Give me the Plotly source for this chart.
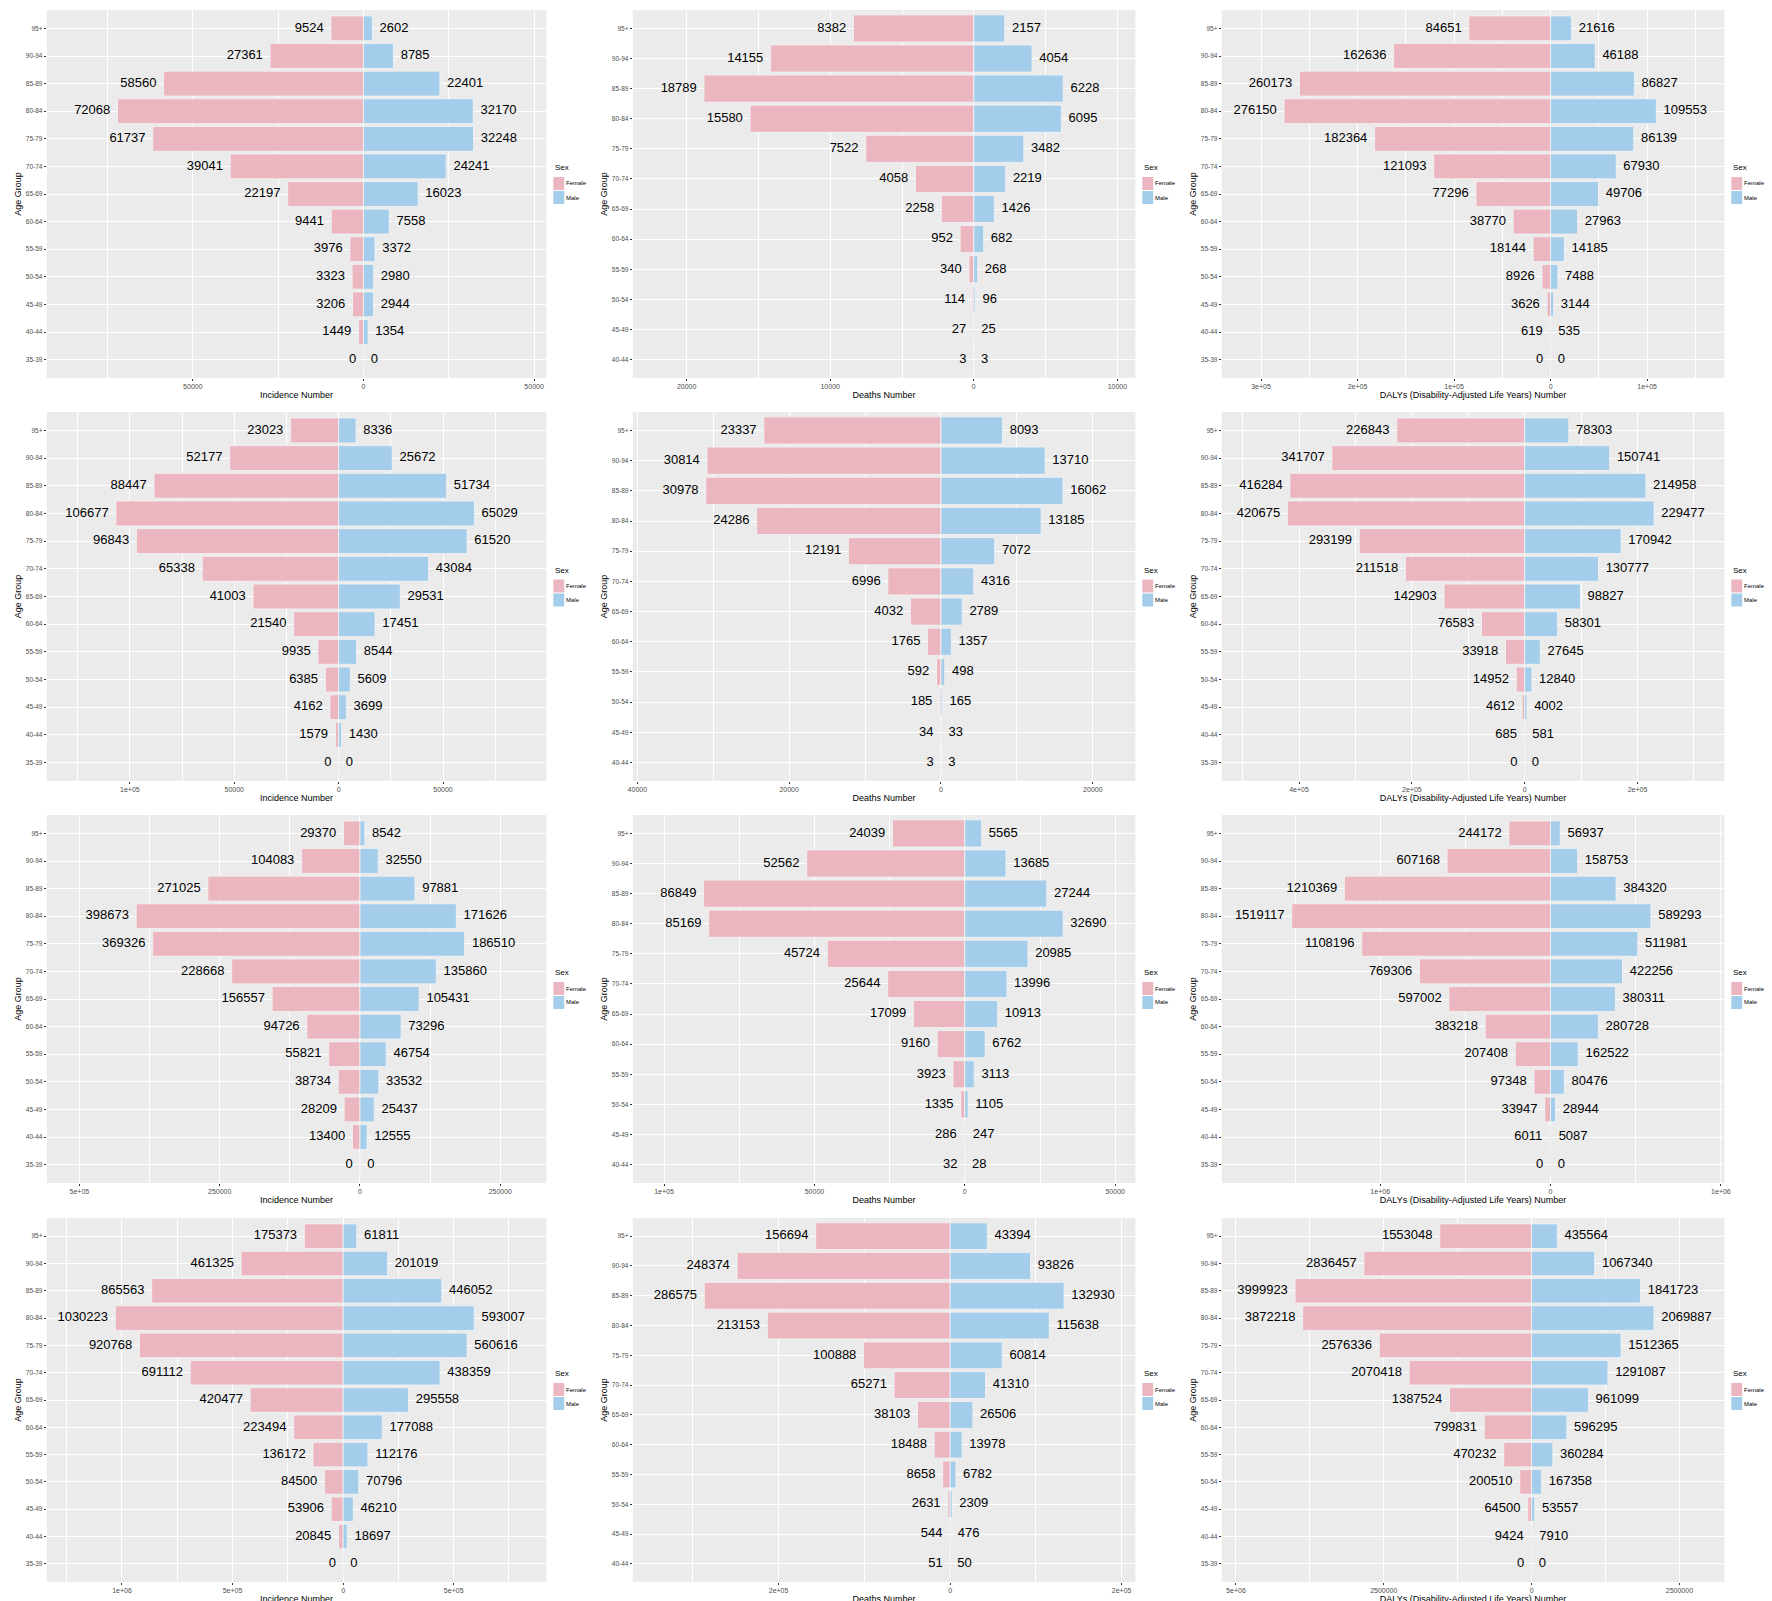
import plotly.graph_objects as go

ages13 = ["95+","90-94","85-89","80-84","75-79","70-74","65-69","60-64","55-59","50-54","45-49","40-44","35-39"]
ages12 = ages13[:12]

r1c1_f = [9524,27361,58560,72068,61737,39041,22197,9441,3976,3323,3206,1449,0]
r1c1_m = [2602,8785,22401,32170,32248,24241,16023,7558,3372,2980,2944,1354,0]
r1c2_f = [8382,14155,18789,15580,7522,4058,2258,952,340,114,27,3]
r1c2_m = [2157,4054,6228,6095,3482,2219,1426,682,268,96,25,3]
r1c3_f = [84651,162636,260173,276150,182364,121093,77296,38770,18144,8926,3626,619,0]
r1c3_m = [21616,46188,86827,109553,86139,67930,49706,27963,14185,7488,3144,535,0]
r2c1_f = [23023,52177,88447,106677,96843,65338,41003,21540,9935,6385,4162,1579,0]
r2c1_m = [8336,25672,51734,65029,61520,43084,29531,17451,8544,5609,3699,1430,0]
r2c2_f = [23337,30814,30978,24286,12191,6996,4032,1765,592,185,34,3]
r2c2_m = [8093,13710,16062,13185,7072,4316,2789,1357,498,165,33,3]
r2c3_f = [226843,341707,416284,420675,293199,211518,142903,76583,33918,14952,4612,685,0]
r2c3_m = [78303,150741,214958,229477,170942,130777,98827,58301,27645,12840,4002,581,0]
r3c1_f = [29370,104083,271025,398673,369326,228668,156557,94726,55821,38734,28209,13400,0]
r3c1_m = [8542,32550,97881,171626,186510,135860,105431,73296,46754,33532,25437,12555,0]
r3c2_f = [24039,52562,86849,85169,45724,25644,17099,9160,3923,1335,286,32]
r3c2_m = [5565,13685,27244,32690,20985,13996,10913,6762,3113,1105,247,28]
r3c3_f = [244172,607168,1210369,1519117,1108196,769306,597002,383218,207408,97348,33947,6011,0]
r3c3_m = [56937,158753,384320,589293,511981,422256,380311,280728,162522,80476,28944,5087,0]
r4c1_f = [175373,461325,865563,1030223,920768,691112,420477,223494,136172,84500,53906,20845,0]
r4c1_m = [61811,201019,446052,593007,560616,438359,295558,177088,112176,70796,46210,18697,0]
r4c2_f = [156694,248374,286575,213153,100888,65271,38103,18488,8658,2631,544,51]
r4c2_m = [43394,93826,132930,115638,60814,41310,26506,13978,6782,2309,476,50]
r4c3_f = [1553048,2836457,3999923,3872218,2576336,2070418,1387524,799831,470232,200510,64500,9424,0]
r4c3_m = [435564,1067340,1841723,2069887,1512365,1291087,961099,596295,360284,167358,53557,7910,0]

t_inc = "Incidence Number"
t_dea = "Deaths Number"
t_daly = "DALYs (Disability-Adjusted Life Years) Number"
sexes = ["Female", "Male"]

panels = [
    (r1c1_f, r1c1_m, ages13, t_inc, [-92800, 53600], [-50000, 0, 50000], ["50000","0","50000"], 50000),
    (r1c2_f, r1c2_m, ages12, t_dea, [-23750, 11250], [-20000,-10000,0,10000], ["20000","10000","0","10000"], 10000),
    (r1c3_f, r1c3_m, ages13, t_daly, [-340700, 180000], [-3e5,-2e5,-1e5,0,1e5], ["3e+05","2e+05","1e+05","0","1e+05"], 1e5),
    (r2c1_f, r2c1_m, ages13, t_inc, [-139800, 99500], [-1e5,-5e4,0,5e4], ["1e+05","50000","0","50000"], 5e4),
    (r2c2_f, r2c2_m, ages12, t_dea, [-40600, 25600], [-4e4,-2e4,0,2e4], ["40000","20000","0","20000"], 2e4),
    (r2c3_f, r2c3_m, ages13, t_daly, [-537000, 354000], [-4e5,-2e5,0,2e5], ["4e+05","2e+05","0","2e+05"], 2e5),
    (r3c1_f, r3c1_m, ages13, t_inc, [-558000, 332000], [-5e5,-2.5e5,0,2.5e5], ["5e+05","250000","0","250000"], 2.5e5),
    (r3c2_f, r3c2_m, ages12, t_dea, [-110400, 56700], [-1e5,-5e4,0,5e4], ["1e+05","50000","0","50000"], 5e4),
    (r3c3_f, r3c3_m, ages13, t_daly, [-1.93e6, 1.02e6], [-1e6,0,1e6], ["1e+06","0","1e+06"], 1e6),
    (r4c1_f, r4c1_m, ages13, t_inc, [-1.34e6, 9.19e5], [-1e6,-5e5,0,5e5], ["1e+06","5e+05","0","5e+05"], 5e5),
    (r4c2_f, r4c2_m, ages12, t_dea, [-370000, 216000], [-2e5,0,2e5], ["2e+05","0","2e+05"], 2e5),
    (r4c3_f, r4c3_m, ages13, t_daly, [-5.24e6, 3.26e6], [-5e6,-2.5e6,0,2.5e6], ["5e+06","2500000","0","2500000"], 2.5e6),
]

W, H = 1772, 1601
cols_px = [(34, 537), (624, 1130), (1217, 1723)]
rows_px = [(2, 370), (404, 773), (807, 1175), (1210, 1574)]
FEM = "#ECB6C1"
MAL = "#A3CDEA"
colors = [FEM, MAL]

fig = go.Figure()
layout = dict(width=W, height=H, margin=dict(l=0, r=0, t=0, b=0),
              paper_bgcolor="white", plot_bgcolor="#EBEBEB", barmode="relative",
              showlegend=False,
              font=dict(family="Liberation Sans, Arial", color="black"))
shapes, annots = [], []

for i, (f, m, ages, xt, rng, tv, tt, step) in enumerate(panels):
    r, c = divmod(i, 3)
    k = i + 1
    xa = "x" if k == 1 else f"x{k}"
    ya = "y" if k == 1 else f"y{k}"
    fig.add_trace(go.Bar(y=ages, x=[-v for v in f], orientation="h", name="Female",
                         marker=dict(color=FEM, line=dict(color="#F4F4F4", width=0.8)),
                         width=0.9, xaxis=xa, yaxis=ya, hoverinfo="skip"))
    fig.add_trace(go.Bar(y=ages, x=m, orientation="h", name="Male",
                         marker=dict(color=MAL, line=dict(color="#F4F4F4", width=0.8)),
                         width=0.9, xaxis=xa, yaxis=ya, hoverinfo="skip"))
    fig.add_trace(go.Scatter(y=ages, x=[-v for v in f], mode="text",
                             text=[f"{v}  " for v in f], textposition="middle left",
                             textfont=dict(size=13, color="black"), cliponaxis=False,
                             xaxis=xa, yaxis=ya, hoverinfo="skip"))
    fig.add_trace(go.Scatter(y=ages, x=m, mode="text",
                             text=[f"  {v}" for v in m], textposition="middle right",
                             textfont=dict(size=13, color="black"), cliponaxis=False,
                             xaxis=xa, yaxis=ya, hoverinfo="skip"))
    x0, x1 = cols_px[c]
    y0, y1 = rows_px[r]
    minor = []
    v = tv[0] - step / 2
    while v < rng[1]:
        if v > rng[0]:
            minor.append(v)
        v += step
    sfx = "" if k == 1 else str(k)
    layout["xaxis" + sfx] = dict(domain=[x0 / W, x1 / W], anchor=ya, range=rng,
                                 tickmode="array", tickvals=tv, ticktext=tt,
                                 tickfont=dict(size=7, color="#4D4D4D"),
                                 showgrid=True, gridcolor="white", gridwidth=1.3,
                                 zeroline=False, ticks="outside", ticklen=2, tickcolor="#333333",
                                 minor=dict(tickmode="array", tickvals=minor, showgrid=True,
                                            gridcolor="white", gridwidth=0.6, ticks=""),
                                 title=dict(text=xt, font=dict(size=9), standoff=2))
    layout["yaxis" + sfx] = dict(domain=[1 - y1 / H, 1 - y0 / H], anchor=xa,
                                 type="category", categoryorder="array",
                                 categoryarray=ages[::-1],
                                 tickfont=dict(size=6.5, color="#4D4D4D"),
                                 showgrid=True, gridcolor="white", gridwidth=1.3,
                                 ticks="outside", ticklen=2, tickcolor="#333333",
                                 title=dict(text="Age Group", font=dict(size=9), standoff=2))
    # manual legend
    lx = x1 + 7
    ly = (y0 + y1) / 2 - 20
    annots.append(dict(x=lx / W, y=1 - ly / H, xref="paper", yref="paper", text="Sex",
                       showarrow=False, xanchor="left", yanchor="bottom", font=dict(size=8)))
    for j, s in enumerate(sexes):
        top = ly + 3 + j * 14
        shapes.append(dict(type="rect", xref="paper", yref="paper",
                           x0=lx / W, x1=(lx + 11) / W, y0=1 - (top + 13) / H, y1=1 - top / H,
                           fillcolor=colors[j], line=dict(width=0)))
        annots.append(dict(x=(lx + 13) / W, y=1 - (top + 6.5) / H, xref="paper", yref="paper",
                           text=s, showarrow=False, xanchor="left", yanchor="middle",
                           xshift=-2, font=dict(size=6)))

layout["shapes"] = shapes
layout["annotations"] = annots
fig.update_layout(**layout)
fig.write_html("out.html")
